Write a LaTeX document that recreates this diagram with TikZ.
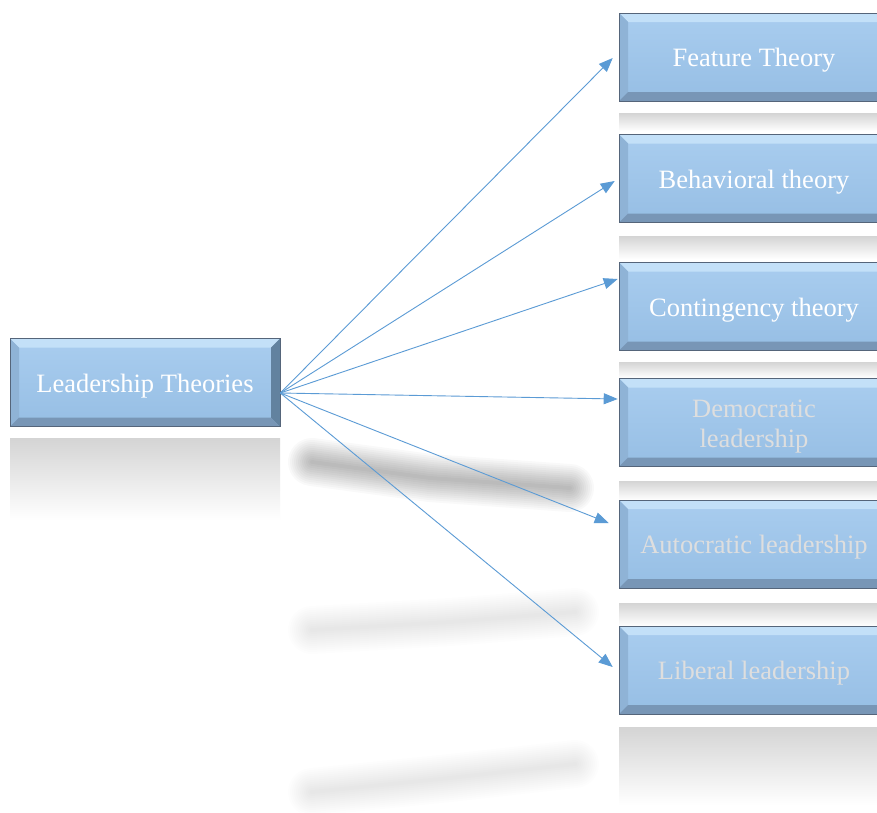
\documentclass[tikz,border=0pt]{standalone}
\usepackage{fontspec}
\setmainfont{Liberation Serif}
\usetikzlibrary{arrows.meta,calc}
\definecolor{arrowblue}{HTML}{5B9BD5}
\definecolor{boxtop}{HTML}{A9CDEF}
\definecolor{boxbot}{HTML}{96BEE4}
\definecolor{bevtop}{HTML}{C3E0F8}
\definecolor{bevleft}{HTML}{8FB3D6}
\definecolor{bevright}{HTML}{62829F}
\definecolor{bevbot}{HTML}{7896B6}
\definecolor{boxline}{HTML}{55657A}
\definecolor{paletext}{HTML}{DEDEDE}
\definecolor{refl}{HTML}{D4D4D4}
\newcommand{\dn}[1]{\raisebox{-3.5pt}[\height][\depth]{#1}}
\tikzset{
  bevbox/.style={minimum width=270pt, minimum height=88pt, inner sep=0pt,
    top color=boxtop, bottom color=boxbot, draw=boxline, line width=0.6pt,
    text=white, align=center, font=\fontsize{26.5}{30}\selectfont,
    path picture={
      \coordinate (pa) at (path picture bounding box.north west);
      \coordinate (pb) at (path picture bounding box.north east);
      \coordinate (pc) at (path picture bounding box.south east);
      \coordinate (pd) at (path picture bounding box.south west);
      \fill[bevtop] (pa) -- (pb) -- ([shift={(-9pt,-9pt)}]pb) -- ([shift={(9pt,-9pt)}]pa) -- cycle;
      \fill[bevleft] (pa) -- ([shift={(9pt,-9pt)}]pa) -- ([shift={(9pt,9pt)}]pd) -- (pd) -- cycle;
      \fill[bevright] (pb) -- ([shift={(-9pt,-9pt)}]pb) -- ([shift={(-9pt,9pt)}]pc) -- (pc) -- cycle;
      \fill[bevbot] (pd) -- ([shift={(9pt,9pt)}]pd) -- ([shift={(-9pt,9pt)}]pc) -- (pc) -- cycle;
    }},
  palebox/.style={bevbox, text=paletext},
  link/.style={draw=arrowblue, line width=0.9pt, -{Triangle[length=14pt,width=11pt]}},
  reflstrip/.style={top color=refl, bottom color=white},
  blurstreak/.style={line cap=round, draw=black}
}
\begin{document}
\begin{tikzpicture}[x=1pt,y=-1pt]
\useasboundingbox (0,0) rectangle (877,812);
\fill[white] (0,0) rectangle (877,812);

% reflections
\shade[top color=refl, bottom color=white] (10,438) rectangle (280,520);
\shade[reflstrip] (619,113) rectangle (889,131);
\shade[reflstrip] (619,236) rectangle (889,259);
\shade[reflstrip] (619,362) rectangle (889,378);
\shade[reflstrip] (619,481) rectangle (889,500);
\shade[reflstrip] (619,603) rectangle (889,626);
\shade[top color=refl, bottom color=white] (619,727) rectangle (889,805);

% blurred arrow reflections
\foreach \w in {4,8,...,48}{
  \draw[blurstreak, line width=\w pt, opacity=0.022] (312,462) -- (430,478) -- (570,488);
  \draw[blurstreak, line width=\w pt, opacity=0.009] (312,630) -- (450,622) -- (575,612);
  \draw[blurstreak, line width=\w pt, opacity=0.009] (312,792) -- (450,778) -- (575,764);
}

% boxes
\node[bevbox] (lt) at (145,382.5) {\dn{Leadership Theories}};
\node[bevbox] (ft) at (754,57) {\dn{Feature Theory}};
\node[bevbox] (bt) at (754,178.5) {\dn{Behavioral theory}};
\node[bevbox] (ct) at (754,306.5) {\dn{Contingency theory}};
\node[palebox] (dl) at (754,422.5) {\dn{\begin{tabular}{@{}c@{}}Democratic\\leadership\end{tabular}}};
\node[palebox] (al) at (754,544) {\dn{Autocratic leadership}};
\node[palebox] (ll) at (754,670) {\dn{Liberal leadership}};

% connectors
\coordinate (src) at ($(lt.east)+(0,10.5)$);
\coordinate (e1) at ($(ft.west)+(-6,1)$);
\coordinate (e2) at ($(bt.west)+(-4,2.5)$);
\coordinate (e3) at ($(ct.west)+(-1,-27.5)$);
\coordinate (e4) at ($(dl.west)+(-1,-23.5)$);
\coordinate (e5) at ($(al.west)+(-10,-21)$);
\coordinate (e6) at ($(ll.west)+(-6,-3)$);
\foreach \e in {e1,e2,e3,e4,e5,e6}{
  \draw[link] (src) -- (\e);
}
\end{tikzpicture}
\end{document}
